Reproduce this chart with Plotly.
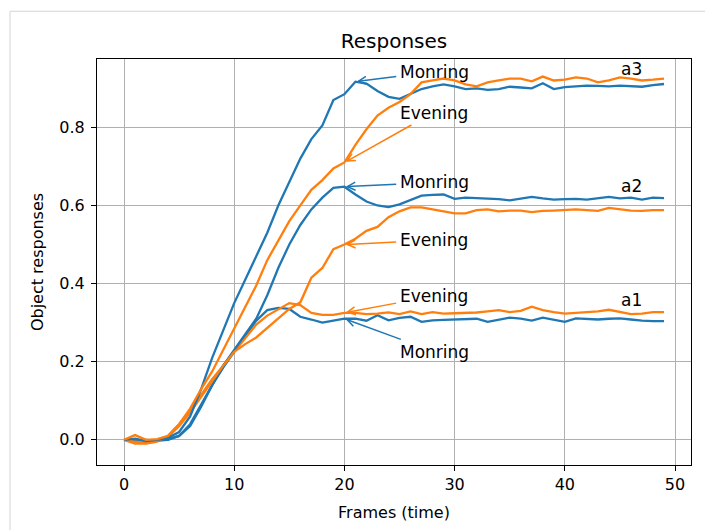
import math
import plotly.graph_objects as go

# ---------------- data ----------------
frames = list(range(50))

morning_a1 = [0.0, -0.003, 0.0, -0.002, 0.0, 0.01, 0.035, 0.085, 0.14, 0.185,
              0.225, 0.265, 0.305, 0.332, 0.338, 0.335, 0.315, 0.308, 0.30, 0.305,
              0.31, 0.31, 0.305, 0.319, 0.306, 0.312, 0.315, 0.302, 0.306, 0.307,
              0.308, 0.31, 0.31, 0.302, 0.308, 0.313, 0.31, 0.305, 0.313, 0.308,
              0.302, 0.311, 0.309, 0.308, 0.31, 0.311, 0.308, 0.305, 0.304, 0.304]

evening_a1 = [0.0, -0.01, -0.01, -0.005, 0.01, 0.04, 0.075, 0.115, 0.155, 0.19,
              0.225, 0.262, 0.295, 0.318, 0.335, 0.35, 0.345, 0.325, 0.32, 0.32,
              0.325, 0.325, 0.322, 0.323, 0.326, 0.322, 0.329, 0.322, 0.327, 0.323,
              0.324, 0.325, 0.326, 0.329, 0.332, 0.327, 0.33, 0.341, 0.332, 0.327,
              0.323, 0.325, 0.327, 0.329, 0.333, 0.327, 0.322, 0.323, 0.327, 0.327]

morning_a2 = [0.0, 0.0, -0.002, -0.002, 0.002, 0.01, 0.04, 0.09, 0.14, 0.19,
              0.23, 0.27, 0.31, 0.37, 0.44, 0.50, 0.55, 0.59, 0.62, 0.645,
              0.648, 0.628, 0.61, 0.60, 0.596, 0.603, 0.613, 0.625, 0.627, 0.628,
              0.617, 0.62, 0.619, 0.618, 0.616, 0.613, 0.617, 0.622, 0.618, 0.615,
              0.616, 0.617, 0.615, 0.618, 0.622, 0.618, 0.62, 0.615, 0.62, 0.619]

evening_a2 = [0.0, -0.005, -0.008, -0.003, 0.008, 0.035, 0.07, 0.11, 0.15, 0.19,
              0.225, 0.245, 0.262, 0.287, 0.31, 0.335, 0.352, 0.415, 0.44, 0.488,
              0.50, 0.515, 0.535, 0.545, 0.57, 0.585, 0.595, 0.595, 0.59, 0.585,
              0.58, 0.58, 0.588, 0.59, 0.585, 0.587, 0.587, 0.583, 0.586, 0.587,
              0.588, 0.59, 0.588, 0.586, 0.594, 0.59, 0.587, 0.586, 0.588, 0.588]

morning_a3 = [0.0, 0.003, -0.003, 0.0, 0.005, 0.02, 0.06, 0.13, 0.21, 0.28,
              0.35, 0.41, 0.47, 0.53, 0.60, 0.66, 0.72, 0.77, 0.805, 0.87,
              0.885, 0.917, 0.912, 0.893, 0.878, 0.873, 0.885, 0.898, 0.905, 0.91,
              0.905, 0.898, 0.90, 0.896, 0.898, 0.904, 0.902, 0.90, 0.913, 0.898,
              0.903, 0.905, 0.907, 0.906, 0.905, 0.907, 0.906, 0.904, 0.908, 0.911]

evening_a3 = [0.0, 0.012, 0.0, 0.002, 0.01, 0.04, 0.08, 0.13, 0.175, 0.23,
              0.285, 0.34, 0.395, 0.46, 0.51, 0.56, 0.60, 0.64, 0.665, 0.695,
              0.71, 0.755, 0.795, 0.83, 0.85, 0.865, 0.885, 0.915, 0.92, 0.925,
              0.92, 0.91, 0.905, 0.915, 0.92, 0.925, 0.925, 0.918, 0.93, 0.92,
              0.922, 0.928, 0.925, 0.915, 0.92, 0.928, 0.925, 0.92, 0.922, 0.925]

series_labels = ["a1", "a2", "a3"]

# ---------------- style / layout ----------------
BLUE = "#1f77b4"
ORANGE = "#ff7f0e"
FONT = "DejaVu Sans"
W, H = 705, 530
ML, MR, MT, MB = 97, 14, 59, 63
XR = [-2.45, 51.45]
YR = [-0.0645, 0.975]
SX = (W - ML - MR) / (XR[1] - XR[0])
SY = (H - MT - MB) / (YR[1] - YR[0])

fig = go.Figure()
for m, e in [(morning_a1, evening_a1), (morning_a2, evening_a2), (morning_a3, evening_a3)]:
    fig.add_trace(go.Scatter(x=frames, y=m, mode="lines",
                             line=dict(color=BLUE, width=2.3), showlegend=False))
    fig.add_trace(go.Scatter(x=frames, y=e, mode="lines",
                             line=dict(color=ORANGE, width=2.3), showlegend=False))

annotations = []
shapes = []


def arrow_note(text, head_x, head_y, text_x, text_y, color):
    annotations.append(dict(
        x=head_x, y=head_y, xref="x", yref="y",
        ax=text_x, ay=text_y, axref="x", ayref="y",
        text=text, showarrow=True, arrowhead=0, arrowwidth=1.5,
        arrowcolor=color, standoff=3, startstandoff=2,
        font=dict(family=FONT, size=17, color="#000000"),
    ))
    # open "->" style chevron head at the tip
    dx = (text_x - head_x) * SX
    dy = (text_y - head_y) * SY
    n = math.hypot(dx, dy)
    ux, uy = dx / n, dy / n
    px, py = ux * 3, uy * 3
    L, w = 8.0, 4.0
    p1 = (px + L * ux - w * uy, py + L * uy + w * ux)
    p2 = (px + L * ux + w * uy, py + L * uy - w * ux)
    shapes.append(dict(
        type="path", xref="x", yref="y", xsizemode="pixel", ysizemode="pixel",
        xanchor=head_x, yanchor=head_y,
        path=f"M {p1[0]:.2f},{p1[1]:.2f} L {px:.2f},{py:.2f} L {p2[0]:.2f},{p2[1]:.2f}",
        line=dict(color=color, width=1.5),
    ))


arrow_note("Monring", 21, morning_a3[21], 28.15, 0.942, BLUE)
arrow_note("Evening", 20, evening_a3[20], 28.1, 0.838, ORANGE)
arrow_note("Monring", 20, morning_a2[20], 28.15, 0.659, BLUE)
arrow_note("Evening", 20, evening_a2[20], 28.1, 0.511, ORANGE)
arrow_note("Evening", 20, evening_a1[20], 28.1, 0.368, ORANGE)
arrow_note("Monring", 20, morning_a1[20], 28.15, 0.226, BLUE)

for lab, yv in zip(series_labels, [0.358, 0.65, 0.95]):
    annotations.append(dict(x=44.9, y=yv, xref="x", yref="y", text=lab, showarrow=False,
                            xanchor="left", yanchor="middle",
                            font=dict(family=FONT, size=17, color="#000000")))

# light frame around the figure
shapes.append(dict(type="rect", xref="paper", yref="paper",
                   x0=(10 - ML) / (W - ML - MR), x1=(W + 20 - ML) / (W - ML - MR),
                   y0=-(H + 20 - (H - MB)) / (H - MT - MB), y1=(H - MB - 11) / (H - MT - MB),
                   line=dict(color="#d4d4d4", width=1), layer="below"))

axis_common = dict(
    showgrid=True, gridcolor="#b0b0b0", gridwidth=1.2,
    showline=True, linecolor="#000000", linewidth=1.2, mirror=True,
    ticks="outside", ticklen=5, tickwidth=1.2, tickcolor="#000000",
    zeroline=False,
    tickfont=dict(family=FONT, size=16, color="#000000"),
)

fig.update_layout(
    width=W, height=H,
    margin=dict(l=ML, r=MR, t=MT, b=MB),
    paper_bgcolor="white", plot_bgcolor="white",
    title=dict(text="Responses", x=0.5, xref="paper", y=1 - 41 / H, yref="container",
               xanchor="center", yanchor="middle",
               font=dict(family=FONT, size=20, color="#000000")),
    xaxis=dict(range=XR, tickvals=[0, 10, 20, 30, 40, 50],
               title=dict(text="Frames (time)", standoff=13,
                          font=dict(family=FONT, size=16, color="#000000")),
               **axis_common),
    yaxis=dict(range=YR, tickvals=[0.0, 0.2, 0.4, 0.6, 0.8], tickformat=".1f",
               ticklabelstandoff=3,
               title=dict(text="Object responses", standoff=11,
                          font=dict(family=FONT, size=16, color="#000000")),
               **axis_common),
    annotations=annotations,
    shapes=shapes,
)

fig.write_html("out.html")
